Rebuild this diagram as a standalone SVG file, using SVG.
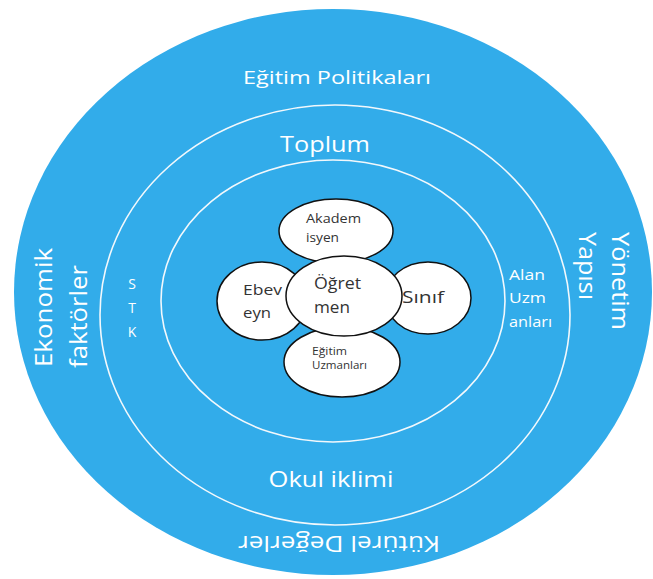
<svg xmlns="http://www.w3.org/2000/svg" width="653" height="579" viewBox="0 0 653 579">
<style>
.w{fill:#fff;font-family:"Open Sans",Lato,sans-serif}
.d{fill:#333;font-family:"Open Sans",Lato,sans-serif}
.ring{fill:none;stroke:#f2f8fc;stroke-width:1.6}
.node{fill:#fff;stroke:#111;stroke-width:1.5}
</style>
<rect width="653" height="579" fill="#fff"/>
<g id="outer">
<ellipse cx="333" cy="292" rx="319" ry="283" fill="#32acea"/>
<text class="w" x="337" y="84" font-size="19" text-anchor="middle" textLength="188" lengthAdjust="spacingAndGlyphs">Eğitim Politikaları</text>
<text class="w" font-size="21" transform="translate(339,544) rotate(180)" text-anchor="middle" dominant-baseline="central" textLength="202" lengthAdjust="spacingAndGlyphs">Kütürel Değerler</text>
<text class="w" font-size="23" transform="translate(52,367) rotate(-90)" textLength="119" lengthAdjust="spacingAndGlyphs">Ekonomik</text>
<text class="w" font-size="23" transform="translate(87,368) rotate(-90)" textLength="103" lengthAdjust="spacingAndGlyphs">faktörler</text>
<text class="w" font-size="23" transform="translate(612,232) rotate(90)" textLength="98" lengthAdjust="spacingAndGlyphs">Yönetim</text>
<text class="w" font-size="23" transform="translate(579,232) rotate(90)" textLength="68" lengthAdjust="spacingAndGlyphs">Yapısı</text>
</g>
<g id="middle">
<ellipse class="ring" cx="335" cy="315" rx="235" ry="210"/>
<text class="w" x="325" y="152" font-size="22" text-anchor="middle" textLength="90" lengthAdjust="spacingAndGlyphs">Toplum</text>
<text class="w" x="331" y="487" font-size="22" text-anchor="middle" textLength="125" lengthAdjust="spacingAndGlyphs">Okul iklimi</text>
<text class="w" x="132" y="289" font-size="14" text-anchor="middle">S</text>
<text class="w" x="132" y="313" font-size="14" text-anchor="middle">T</text>
<text class="w" x="132" y="337" font-size="14" text-anchor="middle">K</text>
<text class="w" x="509" y="280" font-size="14" textLength="36" lengthAdjust="spacingAndGlyphs">Alan</text>
<text class="w" x="509" y="303" font-size="14" textLength="37" lengthAdjust="spacingAndGlyphs">Uzm</text>
<text class="w" x="509" y="327" font-size="14" textLength="43" lengthAdjust="spacingAndGlyphs">anları</text>
</g>
<g id="inner">
<ellipse class="ring" cx="333" cy="301" rx="172" ry="141"/>
</g>
<g id="akademisyen">
<ellipse class="node" cx="336" cy="231" rx="57" ry="32"/>
<text class="d" x="306" y="223" font-size="12" textLength="55" lengthAdjust="spacingAndGlyphs">Akadem</text>
<text class="d" x="306" y="242" font-size="12" textLength="33" lengthAdjust="spacingAndGlyphs">isyen</text>
</g>
<g id="ebeveyn">
<ellipse class="node" cx="262" cy="301" rx="45" ry="39"/>
<text class="d" x="243" y="295" font-size="15" textLength="39" lengthAdjust="spacingAndGlyphs">Ebev</text>
<text class="d" x="243" y="318" font-size="15" textLength="28" lengthAdjust="spacingAndGlyphs">eyn</text>
</g>
<g id="sinif">
<ellipse class="node" cx="428" cy="298" rx="43" ry="36"/>
<text class="d" x="402" y="303" font-size="17" textLength="42" lengthAdjust="spacingAndGlyphs">Sınıf</text>
</g>
<g id="egitim-uzmanlari">
<ellipse class="node" cx="342" cy="362" rx="58" ry="35"/>
<text class="d" x="312" y="355" font-size="10" textLength="35" lengthAdjust="spacingAndGlyphs">Eğitim</text>
<text class="d" x="312" y="369" font-size="10" textLength="55" lengthAdjust="spacingAndGlyphs">Uzmanları</text>
</g>
<g id="ogretmen">
<ellipse class="node" cx="344" cy="296" rx="58" ry="40"/>
<text class="d" x="314" y="289" font-size="15.5" textLength="47" lengthAdjust="spacingAndGlyphs">Öğret</text>
<text class="d" x="314" y="313" font-size="15.5" textLength="36" lengthAdjust="spacingAndGlyphs">men</text>
</g>
<g id="connectors"/>
</svg>
